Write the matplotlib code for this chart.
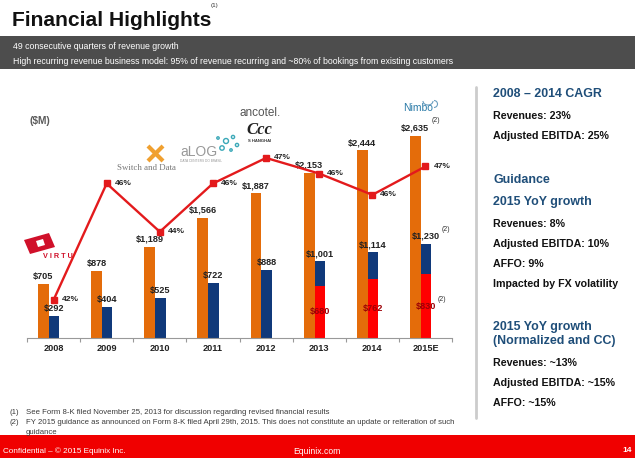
import numpy as np
import matplotlib
matplotlib.use('Agg')
import matplotlib.pyplot as plt
from matplotlib import font_manager
from matplotlib.patches import Rectangle, Polygon, Circle, Arc

# ---- data ----
years = ['2008', '2009', '2010', '2011', '2012', '2013', '2014', '2015E']
revenue = [705, 878, 1189, 1566, 1887, 2153, 2444, 2635]
ebitda = [292, 404, 525, 722, 888, 1001, 1114, 1230]
affo_years = ['2013', '2014', '2015E']
affo = [680, 762, 830]
margin = [42.0, 46.1, 44.4, 46.1, 47.0, 46.45, 45.7, 46.7]
margin_labels = ['42%', '46%', '44%', '46%', '47%', '46%', '46%', '47%']

band_lines = ['49 consecutive quarters of revenue growth',
              'High recurring revenue business model: 95% of revenue recurring and ~80% of bookings from existing customers']
panel_text = ['2008 \u2013 2014 CAGR', 'Revenues: 23%', 'Adjusted EBITDA: 25%',
              'Guidance', '2015 YoY growth', 'Revenues: 8%', 'Adjusted EBITDA: 10%',
              'AFFO: 9%', 'Impacted by FX volatility',
              '2015 YoY growth', '(Normalized and CC)', 'Revenues: ~13%',
              'Adjusted EBITDA: ~15%', 'AFFO: ~15%']
panel_heading = [True, False, False, True, True, False, False, False, False,
                 True, True, False, False, False]
footnotes = ['See Form 8-K filed November 25, 2013 for discussion regarding revised financial results',
             'FY 2015 guidance as announced on Form 8-K filed April 29th, 2015. This does not constitute an update or reiteration of such',
             'guidance']

ORANGE = '#e46c0a'
BLUE = '#10397a'
RED = '#ff0000'
LINE_RED = '#e31a1c'
HEAD_BLUE = '#1f4e79'

names = {f.name for f in font_manager.fontManager.ttflist}
has_narrow = 'Liberation Sans Narrow' in names
NARROW = 'Liberation Sans Narrow' if has_narrow else 'Liberation Sans'
nk = 1.0 if has_narrow else 0.82
SANS = 'Liberation Sans'

W, H = 635, 458
fig = plt.figure(figsize=(W / 100, H / 100), dpi=100)

# slide decoration in pixel coordinates
deco = fig.add_axes([0, 0, 1, 1])
deco.set_xlim(0, W)
deco.set_ylim(H, 0)
deco.axis('off')

deco.text(12, 26, 'Financial Highlights', family=NARROW, weight='bold',
          fontsize=18.5 * nk, va='baseline', ha='left', color='#111111')
deco.text(211, 6, '(1)', family=SANS, fontsize=4.5, va='center', ha='left', color='#333333')

deco.add_patch(Rectangle((0, 36), W, 33, color='#4d4d4d', lw=0))
deco.text(13, 46.5, band_lines[0], family=SANS, fontsize=6.35, color='white', va='center')
deco.text(13, 61, band_lines[1], family=SANS, fontsize=6.35, color='white', va='center')

# right panel
deco.plot([476, 476], [87, 418], color='#cccccc', lw=2, solid_capstyle='round')
panel_y = [94, 116, 136, 180, 202, 224, 244, 264, 284, 327, 341, 363, 383, 403]
for txt, head, yy in zip(panel_text, panel_heading, panel_y):
    if head:
        deco.text(493, yy, txt, family=SANS, weight='bold', fontsize=8.9,
                  color=HEAD_BLUE, va='center')
    else:
        deco.text(493, yy, txt, family=SANS, weight='bold', fontsize=7.7,
                  color='#111111', va='center')

# footnotes
for i, (yy, txt) in enumerate(zip([412, 422, 432], footnotes)):
    if i < 2:
        deco.text(10, yy, f'({i + 1})', family=SANS, fontsize=5.6, color='#3a3a3a', va='center')
    deco.text(26, yy, txt, family=SANS, fontsize=5.6, color='#3a3a3a', va='center')

# footer band
deco.add_patch(Rectangle((0, 435), W, 23, color='#f00000', lw=0))
deco.text(3, 451, 'Confidential \u2013 \u00a9 2015 Equinix Inc.', family=SANS,
          fontsize=5.9, color='white', va='center')
deco.text(293, 451, 'Equinix.com', family=SANS, fontsize=6.2, color='white', va='center')
deco.text(632, 451, '14', family=SANS, weight='bold', fontsize=6, color='white',
          va='center', ha='right')

# acquisition logos (approximated)
deco.add_patch(Polygon([(24, 240), (49, 233), (55, 247), (30, 254)], closed=True,
                       color='#d0102a', lw=0))
deco.add_patch(Polygon([(36, 241), (43, 239), (45, 245), (38, 247)], closed=True,
                       color='white', lw=0))
deco.text(43, 256, 'V I R T U', family=SANS, weight='bold', fontsize=5.2,
          color='#d0102a', va='center', ha='left')
deco.plot([148, 163], [146, 161], color='#f0a030', lw=3, solid_capstyle='butt')
deco.plot([148, 163], [161, 146], color='#f0a030', lw=3, solid_capstyle='butt')
deco.text(117, 168, 'Switch and Data', family='Liberation Serif', fontsize=6.4,
          color='#777777', va='center', ha='left')
deco.text(180, 152, 'aLOG', family=SANS, fontsize=10, color='#999999',
          va='center', ha='left')
deco.text(180, 161, 'DATA CENTERS DO BRASIL', family=SANS, fontsize=2.3,
          color='#999999', va='center', ha='left')
for cx, cy, r in [(222, 148, 2.2), (226, 141, 2.5), (233, 137, 1.6), (237, 145, 1.6),
                  (218, 138, 1.2), (231, 150, 1.2)]:
    deco.add_patch(Circle((cx, cy), r, fill=False, ec='#3aa8b8', lw=1))
deco.text(239, 113, 'ancotel.', family=SANS, fontsize=8.5, color='#555555',
          va='center', ha='left')
deco.text(246, 130, 'Ccc', family='Liberation Serif', weight='bold', style='italic',
          fontsize=12, color='#222222', va='center', ha='left')
deco.text(248, 141, 'S HANGHAI', family=SANS, weight='bold', fontsize=3,
          color='#333333', va='center', ha='left')
deco.text(403, 108, 'Nimbo', family=SANS, fontsize=7.5, color='#2b7ba8',
          va='center', ha='left')
deco.add_patch(Arc((428, 101), 10, 8, theta1=0, theta2=180, color='#6a9ec0', lw=0.8))
deco.add_patch(Arc((434, 104), 7, 7, theta1=-90, theta2=90, color='#6a9ec0', lw=0.8))

deco.text(30, 121, '($M)', family=NARROW, weight='bold', fontsize=9 * nk,
          color='#595959', va='center', ha='left')

# ---- chart ----
rect = [27 / W, 1 - 338 / H, 425 / W, 240 / H]
ax = fig.add_axes(rect)
ax.patch.set_alpha(0)
x = np.arange(len(years))
ax.bar(x - 0.19, revenue, 0.205, color=ORANGE)
ax.bar(x + 0.01, ebitda, 0.195, color=BLUE)
ai = np.array([years.index(y) for y in affo_years])
ax.bar(x[ai] + 0.01, affo, 0.195, color=RED)

ax.set_xlim(-0.5, len(years) - 0.5)
ax.set_ylim(0, 3125)
for s in ['left', 'right', 'top']:
    ax.spines[s].set_visible(False)
ax.spines['bottom'].set_color('#999999')
ax.spines['bottom'].set_linewidth(0.8)
ax.set_yticks([])
ax.set_xticks(x)
ax.set_xticklabels(years, family=NARROW, weight='bold', fontsize=8 * nk, color='#222222')
ax.set_xticks(np.arange(-0.5, len(years)), minor=True)
ax.tick_params(axis='x', which='major', length=0, pad=4.5)
ax.tick_params(axis='x', which='minor', length=3, color='#999999', width=0.8)

lab = dict(family=NARROW, weight='bold', fontsize=8 * nk, textcoords='offset pixels')
for xi, v in zip(x, revenue):
    ax.annotate(f'${v:,}', (xi - 0.19, v), xytext=(0, 3), ha='center', va='bottom',
                color='#222222', **lab)
for xi, v in zip(x, ebitda):
    ax.annotate(f'${v:,}', (xi + 0.01, v), xytext=(0, 3), ha='center', va='bottom',
                color='#222222', **lab)
for xi, v in zip(x[ai], affo):
    ax.annotate(f'${v:,}', (xi + 0.01, v / 2), xytext=(0, 0), ha='center', va='center',
                color='#9c0006', **lab)

sup = dict(family=SANS, fontsize=5, color='#333333', textcoords='offset pixels',
           ha='left', va='center')
ax.annotate('(2)', (x[-1] - 0.19, revenue[-1]), xytext=(16, 15), **sup)
ax.annotate('(2)', (x[-1] + 0.01, ebitda[-1]), xytext=(16, 14), **sup)
ax.annotate('(2)', (x[-1] + 0.01, affo[-1] / 2), xytext=(12, 7), **sup)

# EBITDA margin line
ax2 = fig.add_axes(rect)
ax2.set_xlim(-0.5, len(years) - 0.5)
ax2.set_ylim(40.66, 49.11)
ax2.axis('off')
ax2.plot(x, margin, color=LINE_RED, lw=1.7, marker='s', ms=4, mec=LINE_RED, mfc=LINE_RED)
for xi, m, t in zip(x, margin, margin_labels):
    ax2.annotate(t, (xi, m), xytext=(8, 0), textcoords='offset pixels', ha='left',
                 va='center', family=NARROW, weight='bold', fontsize=7.4 * nk,
                 color='#222222')

fig.savefig('out.png', dpi=100)
